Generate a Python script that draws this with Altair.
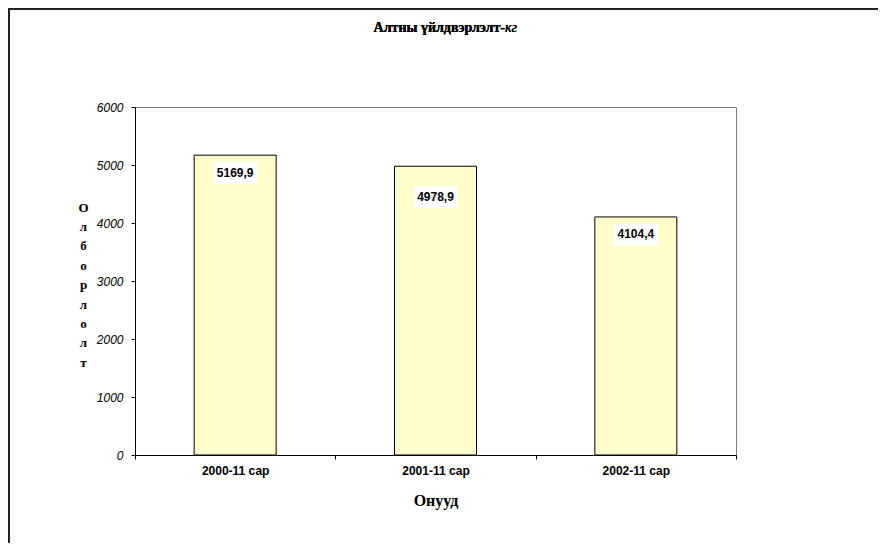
import altair as alt
import pandas as pd

categories = ["2000-11 сар", "2001-11 сар", "2002-11 сар"]
values = [5169.9, 4978.9, 4104.4]
y_ticks = [0, 1000, 2000, 3000, 4000, 5000, 6000]
title_main = "Алтны үйлдвэрлэлт-"
title_unit = "кг"
y_title = "Олборлолт"
x_title = "Онууд"

df = pd.DataFrame({"cat": categories, "value": values})

W, H = 601, 348
PL, PT = 127, 99
TOTAL_W, TOTAL_H = 870, 535

x = alt.X(
    "cat:N",
    sort=categories,
    scale=alt.Scale(paddingInner=0, paddingOuter=0),
    axis=alt.Axis(
        title=x_title,
        titleFont="Liberation Serif",
        titleFontSize=16,
        titleFontWeight="bold",
        titleColor="black",
        titleBaseline="middle",
        titleY=45,
        labelAngle=0,
        labelFont="Liberation Sans",
        labelFontSize=12,
        labelFontWeight="bold",
        labelColor="black",
        labelPadding=6,
        tickBand="extent",
        tickSize=4,
        tickColor="black",
        domainColor="black",
        grid=False,
    ),
)

y = alt.Y(
    "value:Q",
    scale=alt.Scale(domain=[0, 6000], nice=False),
    axis=alt.Axis(
        values=y_ticks,
        format="d",
        title=list(y_title),
        titleAngle=0,
        titleFont="Liberation Serif",
        titleFontSize=13,
        titleFontWeight="bold",
        titleColor="black",
        titleAlign="center",
        titleBaseline="middle",
        titleLineHeight=19.4,
        titleX=-52,
        titleY=100,
        labelFont="Liberation Sans",
        labelFontSize=12,
        labelFontStyle="italic",
        labelColor="black",
        labelPadding=8,
        tickSize=4,
        tickColor="black",
        domainColor="black",
        grid=False,
    ),
)

base = alt.Chart(df).transform_calculate(
    label="replace(format(datum.value, '.1f'), '.', ',')"
)

bars = base.mark_bar(size=82, fill="#FFFFCC", stroke="black", strokeWidth=1).encode(x=x, y=y)

box_a = base.transform_filter(f"datum.cat != '{categories[1]}'").mark_point(
    shape="M-1,0.3L1,0.3L1,1.3L-1,1.3Z", size=1936, filled=True, fill="white", opacity=1
).encode(x=alt.X("cat:N", sort=categories), y="value:Q")
box_b = base.transform_filter(f"datum.cat == '{categories[1]}'").mark_point(
    shape="M-1,0.9L1,0.9L1,1.9L-1,1.9Z", size=1936, filled=True, fill="white", opacity=1
).encode(x=alt.X("cat:N", sort=categories), y="value:Q")

txt_a = base.transform_filter(f"datum.cat != '{categories[1]}'").mark_text(
    font="Liberation Sans", fontSize=12, fontWeight="bold", color="black",
    baseline="middle", dy=17.5
).encode(x=alt.X("cat:N", sort=categories), y="value:Q", text="label:N")
txt_b = base.transform_filter(f"datum.cat == '{categories[1]}'").mark_text(
    font="Liberation Sans", fontSize=12, fontWeight="bold", color="black",
    baseline="middle", dy=31
).encode(x=alt.X("cat:N", sort=categories), y="value:Q", text="label:N")

title_bold = alt.Chart(df).mark_text(
    text=title_main, font="Liberation Serif", fontSize=14, fontWeight="bold",
    align="right", baseline="middle", color="black"
).encode(x=alt.value(370), y=alt.value(-79))
title_it = alt.Chart(df).mark_text(
    text=title_unit, font="Liberation Serif", fontSize=14, fontStyle="italic",
    align="left", baseline="middle", color="black"
).encode(x=alt.value(370), y=alt.value(-79))

frame_left = alt.Chart(df).mark_rule(stroke="#222222", strokeWidth=2).encode(
    x=alt.value(-126), y=alt.value(-99), y2=alt.value(TOTAL_H - PT)
)
frame_top = alt.Chart(df).mark_rule(stroke="#222222", strokeWidth=2).encode(
    x=alt.value(-127), x2=alt.value(TOTAL_W - PL), y=alt.value(-98)
)

chart = alt.layer(
    bars, box_a, box_b, txt_a, txt_b, title_bold, title_it, frame_left, frame_top
).properties(
    width=W,
    height=H,
    autosize=alt.AutoSizeParams(type="none"),
    padding={"left": PL, "top": PT, "right": TOTAL_W - PL - W, "bottom": TOTAL_H - PT - H},
    background="white",
).configure_view(stroke="#808080", strokeWidth=1)

chart.save("out.html", embed_options={"renderer": "svg", "actions": False})
